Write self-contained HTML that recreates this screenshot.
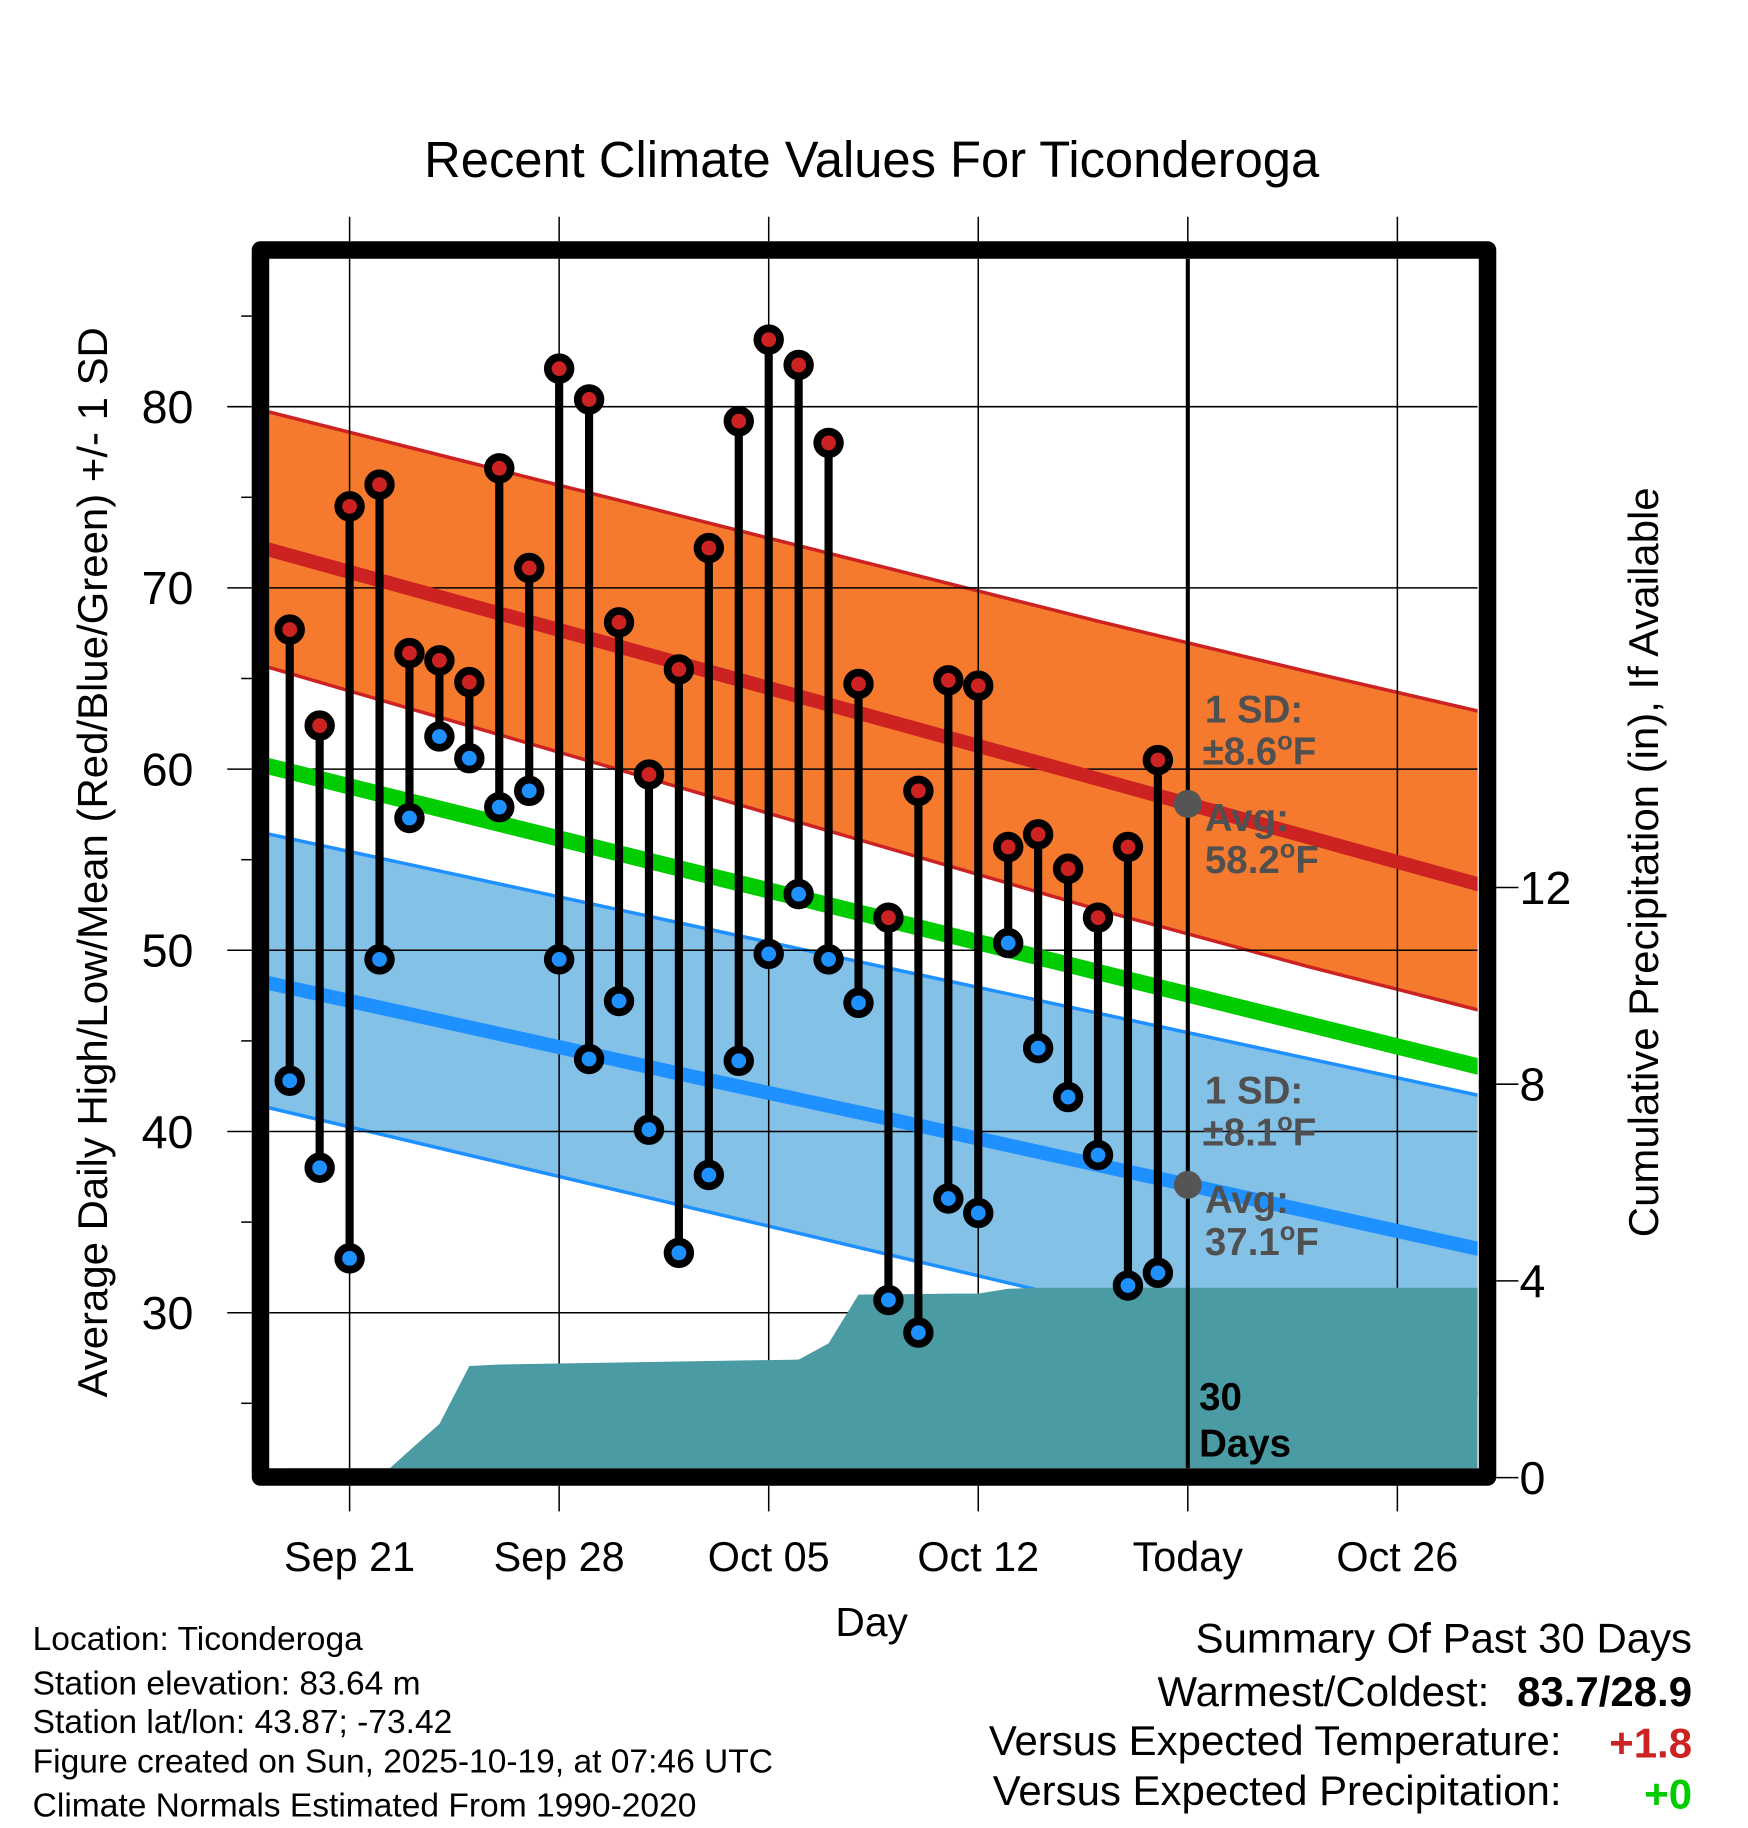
<!DOCTYPE html>
<html><head><meta charset="utf-8"><style>
html,body{margin:0;padding:0;background:#fff}
svg{display:block;font-family:"Liberation Sans",Arial,sans-serif}
</style></head><body>
<svg id="chart" width="1748" height="1828" viewBox="0 0 1500 1568.7" xmlns="http://www.w3.org/2000/svg">
<rect width="1500" height="1568.7" fill="#fff"/>
<g id="bands"></g><g id="grid"></g><g id="precip"></g><g id="lines"></g><g id="marks"></g><g id="frame"></g><g id="labels"></g>
</svg>
<script>
// ---- data ----
const days = ["Sep 19","Sep 20","Sep 21","Sep 22","Sep 23","Sep 24","Sep 25","Sep 26","Sep 27","Sep 28","Sep 29","Sep 30","Oct 01","Oct 02","Oct 03","Oct 04","Oct 05","Oct 06","Oct 07","Oct 08","Oct 09","Oct 10","Oct 11","Oct 12","Oct 13","Oct 14","Oct 15","Oct 16","Oct 17","Oct 18"];
const highs = [67.7,62.4,74.5,75.7,66.4,66.0,64.8,76.6,71.1,82.1,80.4,68.1,59.7,65.5,72.2,79.2,83.7,82.3,78.0,64.7,51.8,58.8,64.9,64.6,55.7,56.4,54.5,51.8,55.7,60.5];
const lows = [42.8,38.0,33.0,49.5,57.3,61.8,60.6,57.9,58.8,49.5,44.0,47.2,40.1,33.3,37.6,43.9,49.8,53.1,49.5,47.1,30.7,28.9,36.3,35.5,50.4,44.6,41.9,38.7,31.5,32.2];
const precip = [0,0,0,0,0.55,1.09,2.27,2.30,2.31,2.32,2.33,2.34,2.35,2.36,2.37,2.38,2.39,2.40,2.73,3.72,3.73,3.73,3.74,3.74,3.84,3.86,3.86,3.86,3.86,3.86];
const normDays = [-1,6,13,20,27,34,41]; // offsets from Sep 19
const normHigh = [72.25,69.05,65.85,62.65,59.45,56.25,53.05];
const normLow = [48.3,45.75,43.2,40.7,38.15,35.6,33.05];
const highUpper = [79.84,76.92,74.0,71.08,68.16,65.38,62.7];
const highLower = [65.76,62.38,59.0,55.63,52.25,49.11,46.16];
const lowUpper = [56.52,54.02,51.52,49.02,46.53,44.03,41.54];
const lowLower = [41.43,38.69,35.95,33.21,30.47,27.7,25.0];
const yTicks = [30,40,50,60,70,80];
const pTicks = [0,4,8,12];
const xTickDays = [2,9,16,23,30,37];
const xTickLabels = ["Sep 21","Sep 28","Oct 05","Oct 12","Today","Oct 26"];

// ---- axes ----
const L=231,R=1268,T=222,B=1260;
const X = d => 248.6 + d*25.69;
const Y = v => 349 + (80 - v)*15.55;
const P = p => 1268 - p*42.2;
const NS="http://www.w3.org/2000/svg";
function mk(tag, attrs, parent){const e=document.createElementNS(NS,tag);for(const k in attrs)e.setAttribute(k,attrs[k]);parent.appendChild(e);return e;}
function txt(parent,x,y,s,size,anchor,weight,fill){const t=mk('text',{x:x,y:y,'font-size':size,'text-anchor':anchor||'start','font-weight':weight||'normal',fill:fill||'#000'},parent);t.textContent=s;return t;}
const g=id=>document.getElementById(id);

const defs=mk('defs',{},g('chart'));
const cp=mk('clipPath',{id:'clip'},defs);mk('rect',{x:L,y:T,width:R-L,height:B-T},cp);
['bands','grid','precip','lines','marks'].forEach(id=>g(id).setAttribute('clip-path','url(#clip)'));

function pts(arr){return normDays.map((d,i)=>[X(d),Y(arr[i])]);}
function bandPath(up,lo){return 'M'+pts(up).concat(pts(lo).reverse()).map(p=>p.join(',')).join('L')+'Z';}
function linePath(p){return 'M'+p.map(q=>q.join(',')).join('L');}
let e;
e=mk('path',{d:bandPath(highUpper,highLower),fill:'#f57a2e'},g('bands'));

e=mk('path',{d:bandPath(lowUpper,lowLower),fill:'#84c1e7'},g('bands'));

mk('path',{d:linePath(pts(highUpper)),stroke:'#cc2222',"stroke-width":3,fill:'none'},g('bands'));
mk('path',{d:linePath(pts(highLower)),stroke:'#cc2222',"stroke-width":3,fill:'none'},g('bands'));
mk('path',{d:linePath(pts(lowUpper)),stroke:'#1e90ff',"stroke-width":3,fill:'none'},g('bands'));
mk('path',{d:linePath(pts(lowLower)),stroke:'#1e90ff',"stroke-width":3,fill:'none'},g('bands'));

yTicks.forEach(v=>{mk('line',{x1:L,x2:R,y1:Y(v),y2:Y(v),stroke:'#000','stroke-width':1.3},g('grid'));});
xTickDays.forEach((d,i)=>{if(i!==4)mk('line',{x1:X(d),x2:X(d),y1:T,y2:B,stroke:'#000','stroke-width':1.3},g('grid'));});

const ppts=[];
precip.forEach((p,i)=>ppts.push([X(i),P(p)]));
ppts.push([R,P(precip[precip.length-1])]);
e=mk('path',{d:'M'+X(0)+','+B+'L'+ppts.map(p=>p.join(',')).join('L')+'L'+R+','+B+'Z',fill:'#4a9ba3'},g('precip'));


e=mk('path',{d:linePath(pts(normHigh)),stroke:'#cc2222','stroke-width':12,fill:'none'},g('lines'));

e=mk('path',{d:linePath(normDays.map((d,i)=>[X(d),Y((normHigh[i]+normLow[i])/2)])),stroke:'#00cc00','stroke-width':14,fill:'none'},g('lines'));

e=mk('path',{d:linePath(pts(normLow)),stroke:'#1e90ff','stroke-width':12,fill:'none'},g('lines'));


e=mk('line',{x1:X(30),x2:X(30),y1:T,y2:B,stroke:'#000','stroke-width':3.5},g('marks'));


days.forEach((d,i)=>{
  const x=X(i);
  e=mk('line',{x1:x,x2:x,y1:Y(highs[i]),y2:Y(lows[i]),stroke:'#000','stroke-width':7},g('marks'));
  
});
days.forEach((d,i)=>{
  const x=X(i);
  e=mk('circle',{cx:x,cy:Y(highs[i]),r:9.7,fill:'#cc2222',stroke:'#000','stroke-width':6.7},g('marks'));
  
  e=mk('circle',{cx:x,cy:Y(lows[i]),r:9.7,fill:'#1e90ff',stroke:'#000','stroke-width':6.7},g('marks'));
  
});
const tHi=(normHigh[3]+(normHigh[4]-normHigh[3])*(30-20)/7), tLo=(normLow[3]+(normLow[4]-normLow[3])*(30-20)/7);
mk('circle',{cx:X(30),cy:Y(tHi),r:12,fill:'#555'},g('marks'));
mk('circle',{cx:X(30),cy:Y(tLo),r:12,fill:'#555'},g('marks'));

e=mk('rect',{x:223.5,y:214.5,width:1053,height:1053,fill:'none',stroke:'#000','stroke-width':15,'stroke-linejoin':'round'},g('frame'));

yTicks.forEach(v=>mk('line',{x1:195,x2:216,y1:Y(v),y2:Y(v),stroke:'#000','stroke-width':1.3},g('frame')));
[25,35,45,55,65,75,85].forEach(v=>mk('line',{x1:207,x2:216,y1:Y(v),y2:Y(v),stroke:'#000','stroke-width':1.3},g('frame')));
pTicks.forEach(p=>mk('line',{x1:1284,x2:1303,y1:P(p),y2:P(p),stroke:'#000','stroke-width':1.3},g('frame')));
xTickDays.forEach(d=>{mk('line',{x1:X(d),x2:X(d),y1:186,y2:207,stroke:'#000','stroke-width':1.3},g('frame'));mk('line',{x1:X(d),x2:X(d),y1:1275,y2:1297,stroke:'#000','stroke-width':1.3},g('frame'));});

const lb=g('labels');
e=txt(lb,748,152,'Recent Climate Values For Ticonderoga',43.5,'middle');

yTicks.forEach(v=>{e=txt(lb,166,Y(v)+14,String(v),40,'end');});
pTicks.forEach(p=>{e=txt(lb,1304,P(p)+14,String(p),40,'start');});
xTickLabels.forEach((s,i)=>{e=txt(lb,X(xTickDays[i]),1348,s,35.5,'middle');});
e=txt(lb,748,1404,'Day',35,'middle');
e=txt(lb,0,0,'Average Daily High/Low/Mean (Red/Blue/Green) +/- 1 SD',36,'middle');
e.setAttribute('transform','translate(92,740) rotate(-90)');

e=txt(lb,0,0,'Cumulative Precipitation (in), If Available',36,'middle');
e.setAttribute('transform','translate(1423,740) rotate(-90)');

const gray='#505050';
function sup(parent,x,y,pre,num){const t=mk('text',{x:x,y:y,'font-size':33,'font-weight':'bold',fill:gray},parent);t.appendChild(document.createTextNode(pre+num));const ts=mk('tspan',{'font-size':22,dy:-13},t);ts.textContent='o';const t2=mk('tspan',{dy:13},t);t2.textContent='F';return t;}
txt(lb,1034,620,'1 SD:',33,'start','bold',gray);
sup(lb,1032,656,'±','8.6');
txt(lb,1034,713,'Avg:',33,'start','bold',gray);
sup(lb,1034,749,'','58.2');
txt(lb,1034,947,'1 SD:',33,'start','bold',gray);
sup(lb,1032,983,'±','8.1');
txt(lb,1034,1041,'Avg:',33,'start','bold',gray);
sup(lb,1034,1077,'','37.1');
txt(lb,1029,1210,'30',33,'start','bold');
txt(lb,1029,1250,'Days',33,'start','bold');

const foot=['Location: Ticonderoga','Station elevation: 83.64 m','Station lat/lon: 43.87; -73.42','Figure created on Sun, 2025-10-19, at 07:46 UTC','Climate Normals Estimated From 1990-2020'];
const fy=[1416,1454,1487,1521,1559];
foot.forEach((s,i)=>{e=txt(lb,28,fy[i],s,28.8,'start');});
e=txt(lb,1452,1418,'Summary Of Past 30 Days',36,'end');
txt(lb,1278,1464,'Warmest/Coldest:',36,'end');
txt(lb,1452,1464,'83.7/28.9',36,'end','bold');
txt(lb,1340,1506,'Versus Expected Temperature:',36,'end');
txt(lb,1452,1508,'+1.8',36,'end','bold','#cc2222');
txt(lb,1340,1549,'Versus Expected Precipitation:',36,'end');
txt(lb,1452,1552,'+0',36,'end','bold','#00cc00');
</script>
</body></html>
